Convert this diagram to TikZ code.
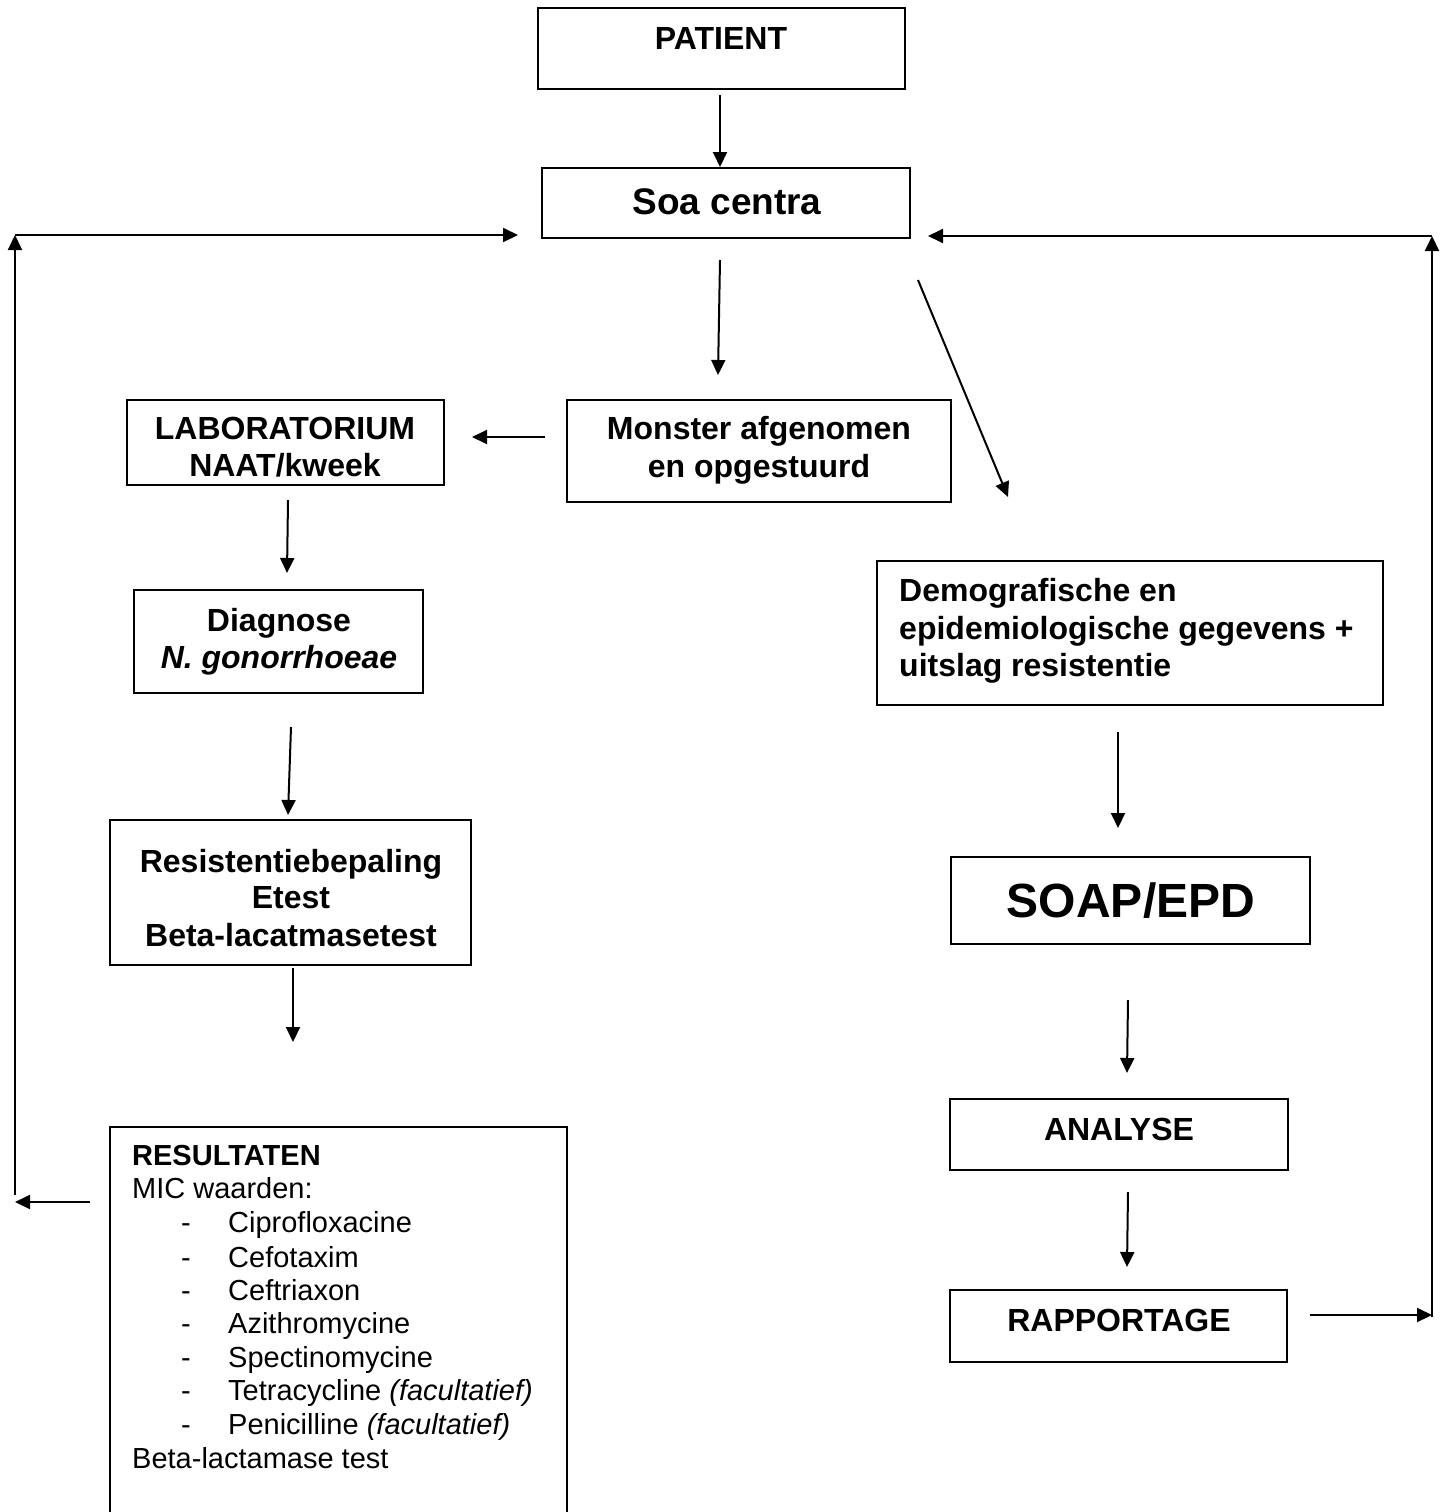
\documentclass[tikz,border=0pt]{standalone}
\usepackage{fontspec}
\setmainfont{Liberation Sans}
\usetikzlibrary{arrows.meta}
\begin{document}
\begin{tikzpicture}[x=1pt,y=-1pt,
  box/.style={draw, line width=2pt, inner sep=0pt},
  bt/.style={font=\fontsize{32}{37}\selectfont\bfseries, inner sep=0pt, anchor=base},
  btl/.style={font=\fontsize{32}{37}\selectfont\bfseries, inner sep=0pt, anchor=base west},
  rt/.style={font=\fontsize{29}{33}\selectfont, inner sep=0pt, anchor=base west},
  rbt/.style={font=\fontsize{29}{33}\selectfont\bfseries, inner sep=0pt, anchor=base west},
  arr/.style={line width=2pt, -{Triangle[length=15pt,width=14pt]}},
  ln/.style={line width=2pt}
]
\useasboundingbox (0,0) rectangle (1445,1512);

% boxes
\node[box, minimum width=367, minimum height=81] (pat) at (721.5,48.5) {};
\node[box, minimum width=368, minimum height=70] (soa) at (726,203) {};
\node[box, minimum width=317, minimum height=85] (lab) at (285.5,442.5) {};
\node[box, minimum width=384, minimum height=102] (mon) at (759,451) {};
\node[box, minimum width=289, minimum height=103] (diag) at (278.5,641.5) {};
\node[box, minimum width=361, minimum height=145] (res) at (290.5,892.5) {};
\node[box, minimum width=506, minimum height=144] (demo) at (1130,633) {};
\node[box, minimum width=359, minimum height=87] (soap) at (1130.5,900.5) {};
\node[box, minimum width=338, minimum height=71] (ana) at (1119,1134.5) {};
\node[box, minimum width=337, minimum height=72] (rap) at (1118.5,1326) {};
\node[box, minimum width=457, minimum height=413] (resu) at (338.5,1333.5) {};

% texts
\node[bt] (patT) at (721,49) {PATIENT};
\node[font=\fontsize{37}{42}\selectfont\bfseries, inner sep=0pt, anchor=base] (soaT) at (727,214) {Soa centra};
\node[bt] (labT1) at (285,439) {LABORATORIUM};
\node[bt] (labT2) at (285,476) {NAAT/kweek};
\node[bt] (monT1) at (759,439) {Monster afgenomen};
\node[bt] (monT2) at (759,477) {en opgestuurd};
\node[bt] (diagT1) at (279,631) {Diagnose};
\node[bt] (diagT2) at (279,668) {\itshape N. gonorrhoeae};
\node[bt] (resT1) at (291,872) {Resistentiebepaling};
\node[bt] (resT2) at (291,908) {Etest};
\node[bt] (resT3) at (291,946) {Beta-lacatmasetest};
\node[btl] (demoT1) at (899,601) {Demografische en};
\node[btl] (demoT2) at (899,639) {epidemiologische gegevens +};
\node[btl] (demoT3) at (899,676) {uitslag resistentie};
\node[font=\fontsize{48}{54}\selectfont\bfseries, inner sep=0pt, anchor=base] (soapT) at (1131,917) {SOAP/EPD};
\node[bt] (anaT) at (1119,1140) {ANALYSE};
\node[bt] (rapT) at (1119,1331) {RAPPORTAGE};

\node[rbt] (r0) at (132,1165) {RESULTATEN};
\node[rt] (r1) at (132,1198) {MIC waarden:};
\foreach \yy/\txt [count=\i] in {1232/Ciprofloxacine, 1267/Cefotaxim, 1300/Ceftriaxon, 1333/Azithromycine, 1367/Spectinomycine, 1400/{Tetracycline \textit{(facultatief)}}, 1434/{Penicilline \textit{(facultatief)}}}{
  \node[rt] (d\i) at (181,\yy) {-};
  \node[rt] (m\i) at (228,\yy) {\txt};
}
\node[rt] (r9) at (132,1468) {Beta-lactamase test};

% connector end points
\coordinate (c1) at (720,95);
\coordinate (c2a) at (720,260);
\coordinate (c2b) at (718,375);
\coordinate (c3a) at (918,280);
\coordinate (c3b) at (1008,497);
\coordinate (c4a) at (545,437);
\coordinate (c4b) at (472,437);
\coordinate (c5a) at (288,500);
\coordinate (c5b) at (287,573);
\coordinate (c6a) at (291,727);
\coordinate (c6b) at (288,815);
\coordinate (c7a) at (293,968);
\coordinate (c7b) at (293,1042);
\coordinate (c8a) at (1118,732);
\coordinate (c8b) at (1118,828);
\coordinate (c9a) at (1128,1000);
\coordinate (c9b) at (1127,1073);
\coordinate (c10a) at (1128,1192);
\coordinate (c10b) at (1127,1267);
\coordinate (c11a) at (1310,1315);
\coordinate (c11b) at (1432,1315);
\coordinate (c12a) at (1432,1317);
\coordinate (c12b) at (1432,236);
\coordinate (c13a) at (1432,236);
\coordinate (c13b) at (928,236);
\coordinate (c14a) at (90,1202);
\coordinate (c14b) at (15,1202);
\coordinate (c15a) at (15,1195);
\coordinate (c15b) at (15,235);
\coordinate (c16a) at (15,235);
\coordinate (c16b) at (518,235);

% connectors
\draw[arr] (c1) -- (c1 |- soa.north);
\draw[arr] (c2a) -- (c2b);
\draw[arr] (c3a) -- (c3b);
\draw[arr] (c4a) -- (c4b);
\draw[arr] (c5a) -- (c5b);
\draw[arr] (c6a) -- (c6b);
\draw[arr] (c7a) -- (c7b);
\draw[arr] (c8a) -- (c8b);
\draw[arr] (c9a) -- (c9b);
\draw[arr] (c10a) -- (c10b);
\draw[arr] (c11a) -- (c11b);
\draw[arr] (c12a) -- (c12b);
\draw[arr] (c13a) -- (c13b);
\draw[arr] (c14a) -- (c14b);
\draw[arr] (c15a) -- (c15b);
\draw[arr] (c16a) -- (c16b);
\end{tikzpicture}
\end{document}
